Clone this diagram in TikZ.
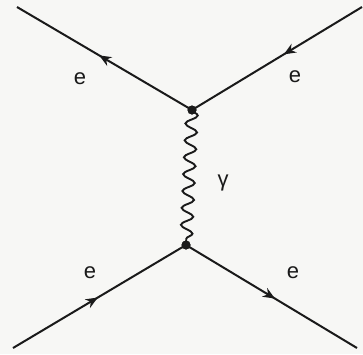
\documentclass[tikz,border=0pt]{standalone}
\usepackage{fontspec}
\setmainfont{Liberation Sans}
\usetikzlibrary{arrows.meta,decorations.markings,decorations.pathmorphing}
\definecolor{bg}{HTML}{F7F7F5}
\definecolor{ink}{HTML}{1A1A1A}
\tikzset{
  fermion/.style={draw=ink,line width=2pt,postaction={decorate},
    decoration={markings,mark=at position #1 with {\arrow{Stealth[length=12pt,width=10pt]}}}},
  fermion/.default=0.5,
  photon/.style={draw=ink,line width=1.9pt,decorate,
    decoration={snake,segment length=16.9pt,amplitude=6pt}},
  vtx/.style={circle,fill=ink,inner sep=0pt,minimum size=9pt},
  lbl/.style={text=ink,font=\fontsize{22}{24}\selectfont,inner sep=0pt}
}
\begin{document}
\begin{tikzpicture}[x=1pt,y=-1pt]
\fill[bg] (0,0) rectangle (363,354);
\useasboundingbox (0,0) rectangle (363,354);
\coordinate (tl) at (17,7);
\coordinate (tr) at (362,7);
\coordinate (bl) at (13,348);
\coordinate (br) at (357,348);
\node[vtx] (v1) at (192,110) {};
\node[vtx] (v2) at (186,245) {};
\draw[fermion=0.53] (v1.center) -- (tl);
\draw[fermion=0.46] (tr) -- (v1.center);
\draw[fermion=0.49] (bl) -- (v2.center);
\draw[fermion=0.52] (v2.center) -- (br);
\draw[photon] (v1.center) -- (v2.center);
\node[vtx] at (v1) {};
\node[vtx] at (v2) {};
\node[lbl] (e1) at (80,79) {e};
\node[lbl] (e2) at (295,77) {e};
\node[lbl] (e3) at (90,273) {e};
\node[lbl] (e4) at (293,273) {e};
\node[lbl] (g) at (223,183) {γ};
\end{tikzpicture}
\end{document}
